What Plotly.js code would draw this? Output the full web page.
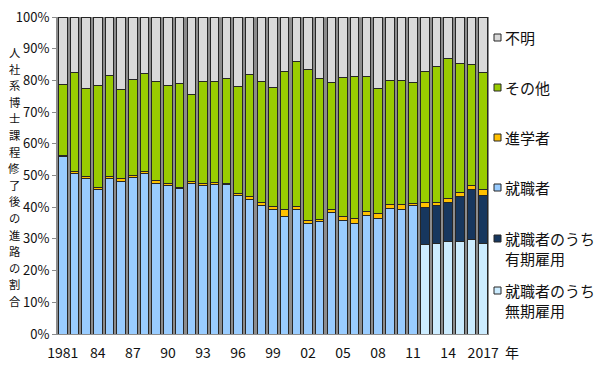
<!DOCTYPE html>
<html>
<head>
<meta charset="utf-8">
<script src="https://cdn.plot.ly/plotly-3.0.1.min.js"></script>
<style>html,body{margin:0;padding:0;background:#fff;}#chart{width:600px;height:371px;}</style>
</head>
<body>
<div id="chart"></div>
<script>
// ---- data (percent) ----
var years = [1981,1982,1983,1984,1985,1986,1987,1988,1989,1990,1991,1992,1993,1994,1995,1996,1997,1998,1999,2000,2001,2002,2003,2004,2005,2006,2007,2008,2009,2010,2011,2012,2013,2014,2015,2016,2017];
var tickYears = [1981,1984,1987,1990,1993,1996,1999,2002,2005,2008,2011,2014,2017];
var tickLabels = ['1981','84','87','90','93','96','99','02','05','08','11','14','2017'];
var yTickVals = [0,10,20,30,40,50,60,70,80,90,100];
var yTickLabels = ['0%','10%','20%','30%','40%','50%','60%','70%','80%','90%','100%'];

var shushoku = [56.0,50.6,49.2,45.5,48.9,48.2,49.4,50.6,47.6,47.0,45.8,47.5,46.8,47.3,47.3,43.8,42.5,40.6,39.4,37.0,39.2,34.9,35.4,38.3,35.8,35.0,37.3,36.5,39.5,39.2,40.4,null,null,null,null,null,null];
var muki = [null,null,null,null,null,null,null,null,null,null,null,null,null,null,null,null,null,null,null,null,null,null,null,null,null,null,null,null,null,null,null,28.1,28.4,29.2,29.2,29.7,28.4];
var yuki = [null,null,null,null,null,null,null,null,null,null,null,null,null,null,null,null,null,null,null,null,null,null,null,null,null,null,null,null,null,null,null,11.7,12.2,12.3,14.2,15.8,15.2];
var shingaku = [0.3,0.6,0.5,0.8,0.7,0.7,0.6,0.8,0.7,0.4,0.5,0.6,0.6,0.5,0.3,0.4,0.9,0.9,0.8,2.4,1.0,0.9,0.8,0.9,1.2,1.5,1.3,1.6,1.5,1.6,0.9,1.7,0.9,1.3,1.3,1.5,2.1];
var sonota = [22.5,31.3,27.7,32.0,31.8,28.1,30.4,30.7,31.4,31.0,32.7,27.3,32.2,31.8,33.0,33.8,38.6,38.1,37.5,43.4,45.8,47.7,44.3,40.2,43.9,44.6,42.5,39.5,39.0,39.3,38.0,41.2,42.8,44.0,40.6,38.0,36.9];
var fumei = [21.2,17.5,22.6,21.7,18.6,23.0,19.6,17.9,20.3,21.6,21.0,24.6,20.4,20.4,19.4,22.0,18.0,20.4,22.3,17.2,14.0,16.5,19.5,20.6,19.1,18.9,18.9,22.4,20.0,19.9,20.7,17.3,15.7,13.2,14.7,15.0,17.4];

var seriesNames = ['就職者のうち<br>無期雇用','就職者のうち<br>有期雇用','就職者','進学者','その他','不明'];
var seriesColors = ['#ccecff','#17375e','#99ccff','#ffc000','#99cc00','#d9d9d9'];
var seriesData = [muki, yuki, shushoku, shingaku, sonota, fumei];
var yTitle = '人社系博士課程修了後の進路の割合';

var FONT = '"Noto Sans CJK JP", "Liberation Sans", sans-serif';

var traces = seriesData.map(function(d, i){
  return {
    type: 'bar', x: years, y: d, name: seriesNames[i],
    marker: {color: seriesColors[i], line: {color: '#262626', width: 1}},
    showlegend: false, hoverinfo: 'x+y+name'
  };
});

// geometry helpers (pixels -> paper)
var W = 600, H = 371, L = 57, R = 489, T = 17, B = 334;
function px(x){ return (x - L) / (R - L); }
function py(y){ return (B - y) / (B - T); }

var annotations = [];
var shapes = [];
// vertical y-axis title: upright characters stacked in a column
var titleStep = 16.6, titleTop = 52;
for (var i = 0; i < yTitle.length; i++) {
  annotations.push({xref:'paper', yref:'paper', x: px(14), y: py(titleTop + i*titleStep), text: yTitle[i],
    showarrow:false, xanchor:'center', yanchor:'middle', font:{family:FONT, size:11.3, color:'#111'}});
}
// year unit
annotations.push({xref:'paper', yref:'paper', x: px(503), y: py(352), text:'年', showarrow:false,
  xanchor:'left', yanchor:'middle', font:{family:FONT, size:14, color:'#111'}});

// legend (top to bottom)
var legOrder = [5,4,3,2,1,0];
var legTextY = [37.5, 87.5, 137.5, 187.5, 248, 300];
var legBoxY = [37.5, 87.5, 137.5, 187.5, 238.5, 290.5];
legOrder.forEach(function(si, k){
  annotations.push({xref:'paper', yref:'paper', x: px(503), y: py(legTextY[k]), text: seriesNames[si],
    showarrow:false, xanchor:'left', yanchor:'middle', align:'left',
    font:{family:FONT, size:15, color:'#111'}});
  shapes.push({type:'rect', xref:'paper', yref:'paper', x0: px(494), x1: px(501),
    y0: py(legBoxY[k]-3.5), y1: py(legBoxY[k]+3.5), fillcolor: seriesColors[si],
    line:{color:'#262626', width:1}});
});

var layout = {
  width: W, height: H,
  margin: {l: L, r: W - R, t: T, b: H - B, pad: 0},
  barmode: 'stack', bargap: 0.27,
  paper_bgcolor: '#ffffff', plot_bgcolor: '#8c8c8c',
  showlegend: false,
  font: {family: FONT, size: 13, color: '#111'},
  xaxis: {range: [1980.5, 2017.5], tickmode: 'array', tickvals: tickYears, ticktext: tickLabels,
    ticks: '', ticklabelstandoff: 6, showgrid: false, zeroline: false,
    showline: true, linecolor: '#8c8c8c', linewidth: 1,
    tickfont: {family: FONT, size: 14, color: '#111'}},
  yaxis: {range: [0, 100], tickmode: 'array', tickvals: yTickVals, ticktext: yTickLabels,
    ticks: 'outside', ticklen: 4, tickcolor: '#8c8c8c',
    showgrid: false, zeroline: false, showline: true, linecolor: '#8c8c8c', linewidth: 1,
    tickfont: {family: FONT, size: 13, color: '#111'}},
  annotations: annotations,
  shapes: shapes
};

Plotly.newPlot('chart', traces, layout, {staticPlot: true, displayModeBar: false});
</script>
</body>
</html>
